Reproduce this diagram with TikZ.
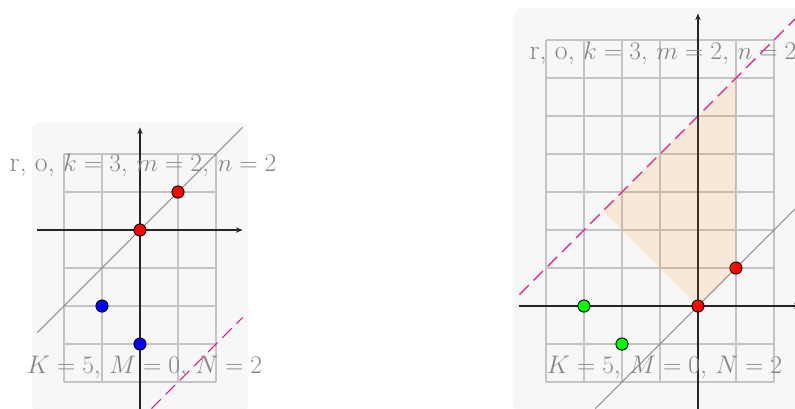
\documentclass[tikz,border=0pt]{standalone}
\usetikzlibrary{arrows.meta}
\definecolor{bgc}{gray}{0.97}
\definecolor{pinkline}{RGB}{232,20,140}
\tikzset{
  panelbg/.style={fill=bgc, rounded corners=0.25cm},
  gridline/.style={draw=black!23, line width=0.8pt},
  axisline/.style={draw=black!85, line width=1pt, -{Stealth[length=5pt,width=4pt]}},
  diagline/.style={draw=gray, line width=0.6pt},
  dashline/.style={draw=pinkline, line width=0.8pt, dash pattern=on 10pt off 5pt},
  dot/.style={circle, draw=black, line width=0.7pt, inner sep=0pt, minimum size=0.32cm},
  lbl/.style={text=black!48, font=\fontsize{19}{21}\selectfont, inner sep=0pt, transform shape, scale=1.1},
  region/.style={fill=orange, fill opacity=0.12},
}
\begin{document}
\begin{tikzpicture}
\useasboundingbox (-3.684,-4.684) rectangle (17.237,6.053);
\clip (-3.684,-4.684) rectangle (17.237,6.053);
% ---------- left panel ----------
\begin{scope}
  \fill[panelbg] (-2.84,-4.84) rectangle (2.84,2.84);
  \draw[gridline] (-2,-4) grid (2,2);
  \coordinate (LdA) at (-2.7,-2.7);
  \coordinate (LdB) at (2.7,2.7);
  \draw[diagline] (LdA) -- (LdB);
  \coordinate (LkA) at (0.3,-4.7);
  \coordinate (LkB) at (2.7,-2.3);
  \draw[dashline] (LkA) -- (LkB);
  \coordinate (LxA) at (-2.7,0);
  \coordinate (LxB) at (2.7,0);
  \coordinate (LyA) at (0,-4.7);
  \coordinate (LyB) at (0,2.7);
  \draw[axisline] (LxA) -- (LxB);
  \draw[axisline] (LyA) -- (LyB);
  \node[dot, fill=red] (Lr1) at (0,0) {};
  \node[dot, fill=red] (Lr2) at (1,1) {};
  \node[dot, fill=blue] (Lb1) at (-1,-2) {};
  \node[dot, fill=blue] (Lb2) at (0,-3) {};
  \node[lbl] (Ltop) at (0.08,1.71) {r, o, $k=3$, $m=2$, $n=2$};
  \node[lbl] (Lbot) at (0.12,-3.63) {$K=5$, $M=0$, $N=2$};
\end{scope}
% ---------- right panel ----------
\begin{scope}[shift={(14.684,-2)}]
  \fill[panelbg] (-4.87,-2.85) rectangle (2.85,7.84);
  \draw[gridline] (-4,-2) grid (2,7);
  \coordinate (RdA) at (-2.7,-2.7);
  \coordinate (RdB) at (2.7,2.7);
  \draw[diagline] (RdA) -- (RdB);
  \coordinate (RkA) at (-4.7,0.3);
  \coordinate (RkB) at (2.7,7.7);
  \draw[dashline] (RkA) -- (RkB);
  \coordinate (RxA) at (-4.7,0);
  \coordinate (RxB) at (2.7,0);
  \coordinate (RyA) at (0,-2.7);
  \coordinate (RyB) at (0,7.7);
  \draw[axisline] (RxA) -- (RxB);
  \draw[axisline] (RyA) -- (RyB);
  \node[dot, fill=red] (Rr1) at (0,0) {};
  \node[dot, fill=red] (Rr2) at (1,1) {};
  \node[dot, fill=green] (Rg1) at (-3,0) {};
  \node[dot, fill=green] (Rg2) at (-2,-1) {};
  \coordinate (P1) at (0,0);
  \coordinate (P2) at (1,1);
  \coordinate (P3) at (1,6);
  \coordinate (P4) at (-2.5,2.5);
  \fill[region] (P1) -- (P2) -- (P3) -- (P4) -- cycle;
  \node[lbl] (Rtop) at (-0.92,6.66) {r, o, $k=3$, $m=2$, $n=2$};
  \node[lbl] (Rbot) at (-0.88,-1.63) {$K=5$, $M=0$, $N=2$};
\end{scope}
\end{tikzpicture}
\end{document}
